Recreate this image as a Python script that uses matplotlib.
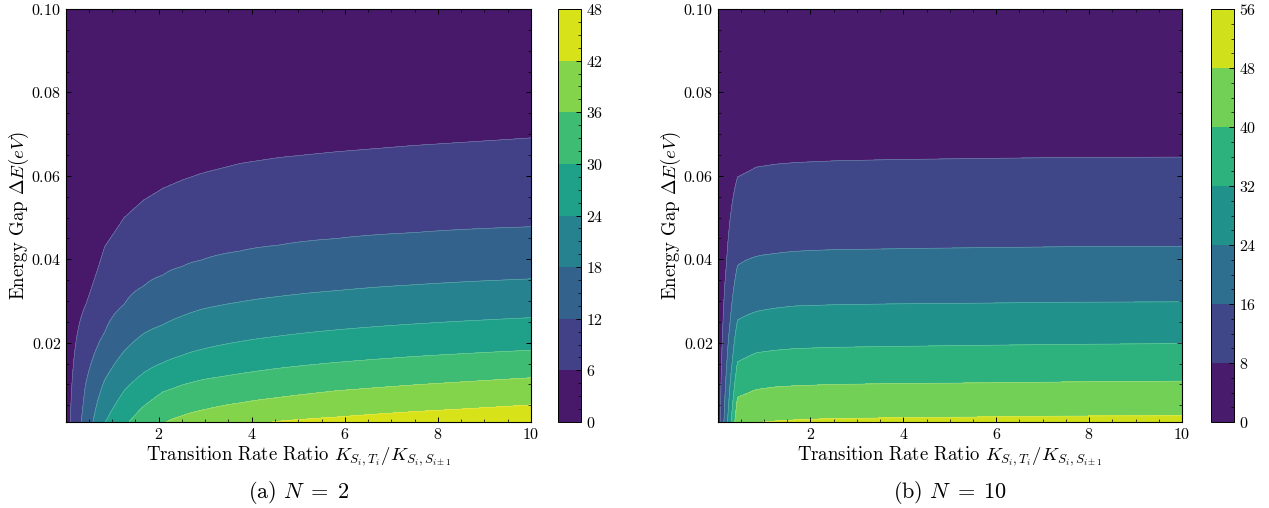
import numpy as np
import matplotlib
matplotlib.use("Agg")
import matplotlib.pyplot as plt

plt.rcParams["font.family"] = ["cmr10", "DejaVu Serif"]
plt.rcParams["mathtext.fontset"] = "cm"
plt.rcParams["axes.formatter.use_mathtext"] = True
plt.rcParams["xtick.direction"] = "in"
plt.rcParams["ytick.direction"] = "in"
plt.rcParams["xtick.top"] = True
plt.rcParams["ytick.right"] = True

# ratio columns where the energy-gap crossings were sampled
ratio_a = [0.01, 0.43, 0.84, 1.26, 1.68, 2.09, 2.51, 2.92, 3.76, 4.59, 5.84, 7.50, 10.0]
ratio_b = [0.01, 0.43, 0.84, 1.26, 1.68, 2.51, 3.76, 5.84, 7.50, 10.0]

levels_a = [0, 6, 12, 18, 24, 30, 36, 42, 48]
levels_b = [0, 8, 16, 24, 32, 40, 48, 56]

nan = np.nan
# Delta E (eV) at which each contour level is crossed, one row per level
gap_a = {
    6:  [nan, 0.0290, 0.0430, 0.0500, 0.0542, 0.0570, 0.0590, 0.0606, 0.0630, 0.0644, 0.0658, 0.0673, 0.0691],
    12: [nan, 0.0100, 0.0225, 0.0292, 0.0336, 0.0362, 0.0383, 0.0398, 0.0420, 0.0434, 0.0450, 0.0464, 0.0478],
    18: [nan, nan, 0.0110, 0.0180, 0.0222, 0.0243, 0.0264, 0.0280, 0.0298, 0.0311, 0.0325, 0.0339, 0.0353],
    24: [nan, nan, nan, 0.0085, 0.0128, 0.0152, 0.0170, 0.0184, 0.0203, 0.0216, 0.0231, 0.0245, 0.0260],
    30: [nan, nan, nan, nan, 0.0048, 0.0082, 0.0099, 0.0111, 0.0126, 0.0139, 0.0153, 0.0167, 0.0182],
    36: [nan, nan, nan, nan, nan, nan, 0.0025, 0.0038, 0.0056, 0.0069, 0.0085, 0.0099, 0.0116],
    42: [nan, nan, nan, nan, nan, nan, nan, nan, nan, 0.0012, 0.0022, 0.0035, 0.0051],
}
gap_b = {
    8:  [nan, 0.0597, 0.0621, 0.0628, 0.0632, 0.0636, 0.0639, 0.0642, 0.0644, 0.0645],
    16: [nan, 0.0385, 0.0407, 0.0414, 0.0419, 0.0423, 0.0425, 0.0428, 0.0430, 0.0431],
    24: [nan, 0.0254, 0.0275, 0.0283, 0.0288, 0.0291, 0.0293, 0.0295, 0.0297, 0.0298],
    32: [nan, 0.0154, 0.0176, 0.0182, 0.0186, 0.0189, 0.0191, 0.0194, 0.0196, 0.0198],
    40: [nan, 0.0069, 0.0088, 0.0094, 0.0097, 0.0100, 0.0102, 0.0104, 0.0106, 0.0108],
    48: [nan, nan, nan, 0.0012, 0.0015, 0.0018, 0.0020, 0.0022, 0.0024, 0.0025],
}

# values at the lowest energy gap (0.001 eV), and at 0.1 eV where no level is crossed
bottom_a = [3.7, 14.3, 23.8, 29.0, 33.0, 35.6, 37.8, 39.2, 41.0, 42.2, 43.5, 44.6, 45.5]
bottom_b = [3.0, 46.0, 47.6, 48.8, 49.2, 49.6, 49.9, 50.2, 50.4, 50.6]
top_a = 0.5
top_b = 0.5

e_min, e_max = 0.001, 0.1


def build_field(ratio, gaps, bottom, top, n=600):
    """ Rebuild the gridded field column by column from the level crossings """
    e = np.linspace(e_min, e_max, n)
    z = np.zeros((n, len(ratio)))
    for j in range(len(ratio)):
        pts = [(e_min, bottom[j])]
        for lev in sorted(gaps):
            y = gaps[lev][j]
            if not np.isnan(y):
                pts.append((y, lev))
        pts.sort()
        if len(pts) == 1:
            pts.append((e_max, top))
        else:
            # keep the last gradient above the highest crossing
            (y0, z0), (y1, z1) = pts[-2], pts[-1]
            slope = (z1 - z0) / (y1 - y0)
            pts.append((e_max, z1 + slope * (e_max - y1)))
        ys, zs = zip(*pts)
        z[:, j] = np.maximum(np.interp(e, ys, zs), top)
    return np.array(ratio), e, z


def draw_panel(fig, ax_rect, cb_rect, ratio, gaps, bottom, top, levels, caption):
    ax = fig.add_axes(ax_rect)
    x, y, z = build_field(ratio, gaps, bottom, top)
    cs = ax.contourf(x, y, z, levels=levels, cmap="viridis")
    ax.contour(x, y, z, levels=levels[1:-1], colors="white", linewidths=0.4, alpha=0.35)
    ax.set_xlim(0.01, 10)
    ax.set_ylim(e_min, e_max)
    ax.set_xticks([2, 4, 6, 8, 10])
    ax.set_yticks([0.02, 0.04, 0.06, 0.08, 0.10])
    ax.minorticks_on()
    ax.tick_params(which="major", length=3.5, width=0.7, labelsize=11.5)
    ax.tick_params(which="minor", length=2, width=0.5)
    ax.set_xlabel(r"Transition Rate Ratio $K_{S_i,T_i}/K_{S_i,S_{i\pm1}}$", fontsize=13.5)
    ax.set_ylabel(r"Energy Gap $\Delta E(eV)$", fontsize=13.5)
    ax.xaxis.set_label_coords(0.5, -0.055)
    ax.yaxis.set_label_coords(-0.075, 0.5)
    ax.text(0.5, -0.17, caption, transform=ax.transAxes, ha="center", va="center", fontsize=16)

    cax = fig.add_axes(cb_rect)
    cb = fig.colorbar(cs, cax=cax, ticks=levels)
    cb.ax.minorticks_on()
    cb.ax.tick_params(which="major", direction="in", length=3.5, width=0.7, labelsize=11.5)
    cb.ax.tick_params(which="minor", direction="in", length=2, width=0.5)
    cb.outline.set_linewidth(0.7)
    return ax


W, H = 1269, 508
fig = plt.figure(figsize=(W / 100, H / 100), dpi=100)

draw_panel(fig, [66 / W, 86 / H, 465 / W, 413 / H], [558 / W, 86 / H, 23 / W, 413 / H],
           ratio_a, gap_a, bottom_a, top_a, levels_a, r"(a) $N\;=\;2$")
draw_panel(fig, [718 / W, 86 / H, 464 / W, 413 / H], [1211 / W, 86 / H, 23 / W, 413 / H],
           ratio_b, gap_b, bottom_b, top_b, levels_b, r"(b) $N\;=\;10$")

fig.savefig("out.png", dpi=100)
